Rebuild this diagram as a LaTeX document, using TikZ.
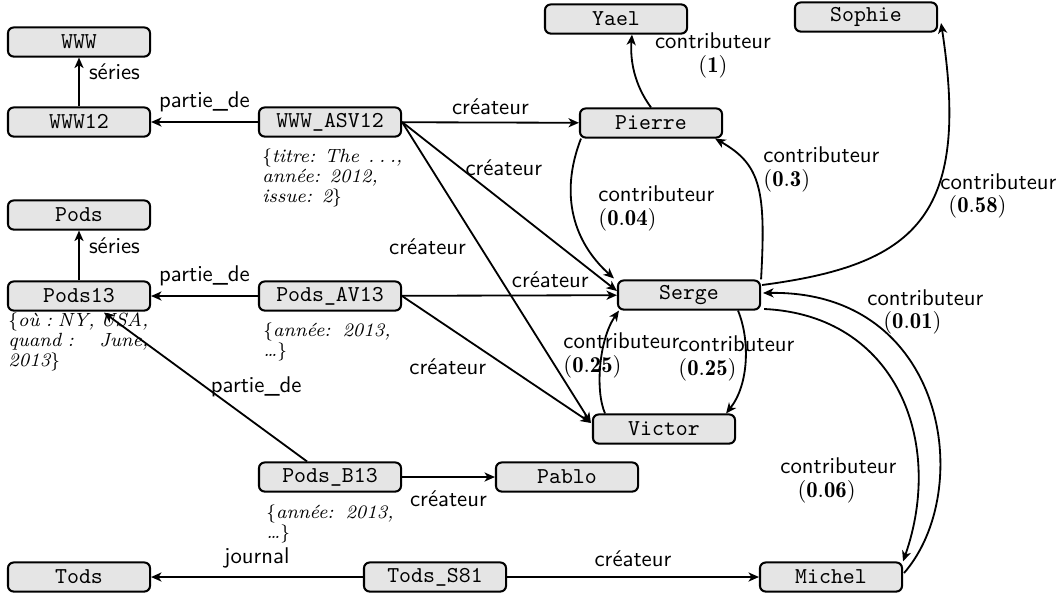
\documentclass[tikz,border=0pt]{standalone}
\usepackage{fontspec}
\usetikzlibrary{arrows.meta,calc}
\begin{document}
\begin{tikzpicture}[x=0.44pt,y=0.44pt,
  box/.style={draw, line width=0.9pt, fill=gray!20, rounded corners=2.5pt,
    minimum width=62.5pt, minimum height=12.8pt, inner sep=0pt,
    font=\ttfamily\fontsize{10}{12}\selectfont},
  edge/.style={line width=0.8pt, -{Stealth[length=4.6pt,width=4pt,inset=1.3pt]}},
  elbl/.style={font=\sffamily\fontsize{10}{10.5}\selectfont, inner sep=2pt},
  clbl/.style={font=\sffamily\fontsize{10}{10.5}\selectfont, inner sep=0pt, align=left, anchor=west},
  ann/.style={font=\fontsize{8.4}{8.8}\selectfont\itshape, text=black, inner sep=0pt,
    align=left, anchor=base west}]
\useasboundingbox (0,0) rectangle (1058,-599);

% nodes
\node[box] (WWW) at (79,-42) {WWW};
\node[box] (WWW12) at (79,-122) {WWW12};
\node[box] (WWWASV) at (330,-122) {WWW\_ASV12};
\node[box] (Pods) at (79,-215) {Pods};
\node[box] (Pods13) at (79,-296) {Pods13};
\node[box] (PodsAV) at (330,-296) {Pods\_AV13};
\node[box] (Yael) at (616,-19) {Yael};
\node[box] (Sophie) at (866,-17) {Sophie};
\node[box] (Pierre) at (651,-123) {Pierre};
\node[box] (Serge) at (689,-295) {Serge};
\node[box] (Victor) at (664,-429) {Victor};
\node[box] (PodsB) at (330,-477) {Pods\_B13};
\node[box] (Pablo) at (567,-477) {Pablo};
\node[box] (Tods) at (79,-577) {Tods};
\node[box] (TodsS) at (435,-577) {Tods\_S81};
\node[box] (Michel) at (831,-577) {Michel};

% annotations
\node[ann, text width=61.6pt] (a1) at (262,-162) {$\{$titre:\hfill The\hfill .\hspace{2pt}.\hspace{2pt}.,\\ année: 2012,\\ issue: 2$\}$};
\node[ann, text width=61.6pt] (a2) at (8,-326) {$\{$où :\hfill NY,\hfill USA,\\ quand :\hfill June,\\ 2013$\}$};
\node[ann, text width=56pt] (a3) at (263,-336) {$\{$année:\hfill 2013,\\ \dots$\}$};
\node[ann, text width=56pt] (a4) at (266,-518) {$\{$année:\hfill 2013,\\ \dots$\}$};

% straight edges
\draw[edge] (WWW12) -- node[elbl, pos=0.72, right, xshift=2pt]{séries} (WWW);
\draw[edge] (WWWASV) -- node[elbl, above, yshift=2pt]{partie\_de} (WWW12);
\draw[edge] (WWWASV) -- node[elbl, above, yshift=1pt]{créateur} (Pierre);
\draw[edge] (WWWASV.east) -- node[elbl, pos=0.27, anchor=west]{créateur} ($(Serge.west)+(0,4)$);
\draw[edge] (WWWASV.east) -- node[elbl, pos=0.415, anchor=east, xshift=-4pt]{créateur} ($(Victor.west)+(-1,6)$);
\draw[edge] (PodsAV) -- node[elbl, above, yshift=2pt]{partie\_de} (Pods13);
\draw[edge] (Pods13) -- node[elbl, pos=0.7, right, xshift=2pt]{séries} (Pods);
\draw[edge] (PodsAV) -- node[elbl, pos=0.69, above, yshift=1pt]{créateur} (Serge);
\draw[edge] (PodsAV.east) -- node[elbl, pos=0.45, anchor=north east, xshift=2pt]{créateur} ($(Victor.west)+(-1,6)$);
\draw[edge] ($(PodsB.north)+(-23,0)$) -- node[elbl, pos=0.5, anchor=west]{partie\_de} ($(Pods13.south)+(25,-1)$);
\draw[edge] (PodsB) -- node[elbl, below, yshift=-3.5pt]{créateur} (Pablo);
\draw[edge] (TodsS) -- node[elbl, above, yshift=1.5pt]{journal} (Tods);
\draw[edge] (TodsS) -- node[elbl, above, yshift=2pt]{créateur} (Michel);

% curved edges
\draw[edge] (Pierre.north) .. controls +(-17,23) and +(-2,-25) .. ($(Yael.south)+(16,0)$);
\draw[edge] ($(Pierre.south west)+(2,0)$) .. controls +(-22,-57) and +(-40,36) .. ($(Serge.north west)+(-3,1)$);
\draw[edge] (Serge.north east) .. controls +(5,89) and +(46,-26) .. ($(Pierre.south east)+(-8,0)$);
\draw[edge] ($(Serge.east)+(1,10)$) .. controls +(152,20) and +(30,-195) .. ($(Sophie.east)+(3,-6)$);
\draw[edge] ($(Victor.north)+(-59,0)$) .. controls +(-10,23) and +(-20,-29) .. ($(Serge.south west)+(2,0)$);
\draw[edge] ($(Serge.south)+(49,0)$) .. controls +(12,-29) and +(23,29) .. ($(Victor.north east)+(-10,0)$);
\draw[edge] ($(Michel.east)+(1,4)$) .. controls +(72,83) and +(183,3) .. ($(Serge.east)+(2,2)$);
\draw[edge] ($(Serge.east)+(3,-14)$) .. controls +(132,-6) and +(42,120) .. (Michel.north east);

% curve labels
\node[clbl, align=center, anchor=center] (l1) at (713,-55.5) {contributeur\\$(\mathbf{1})$};
\node[clbl] (l04) at (598,-208.5) {contributeur\\$(\mathbf{0.04})$};
\node[clbl] (l3) at (763,-169.5) {contributeur\\$(\mathbf{0.3})$};
\node[clbl] (l58) at (940,-196) {contributeur\\\hspace*{3.5pt}$(\mathbf{0.58})$};
\node[clbl] (l01) at (867,-312) {contributeur\\\hspace*{7pt}$(\mathbf{0.01})$};
\node[clbl] (l06) at (780,-480.5) {contributeur\\\hspace*{7.5pt}$(\mathbf{0.06})$};
\node[clbl] (l25a) at (563,-355.5) {contributeur\\$(\mathbf{0.25})$};
\node[clbl] (l25b) at (678,-358.5) {contributeur\\$(\mathbf{0.25})$};
\end{tikzpicture}
\end{document}
